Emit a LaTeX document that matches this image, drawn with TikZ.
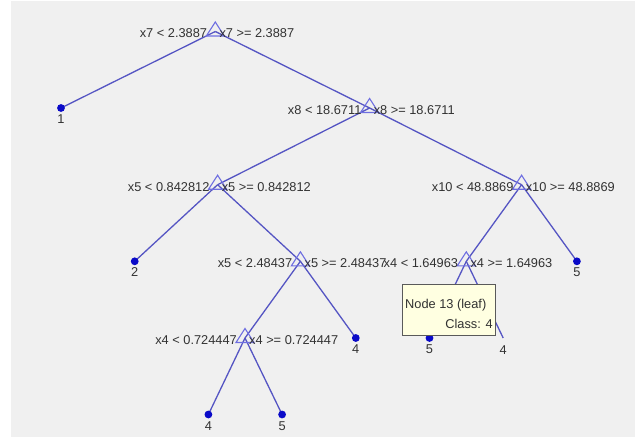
\documentclass[tikz,border=0pt]{standalone}
\usepackage{fontspec}
\setmainfont{Liberation Sans}
\definecolor{bgc}{RGB}{240,240,240}
\definecolor{edgec}{RGB}{85,85,195}
\definecolor{tric}{RGB}{110,110,225}
\definecolor{dotc}{RGB}{10,10,200}
\definecolor{txtc}{RGB}{50,50,50}
\definecolor{tipc}{RGB}{255,255,225}
\definecolor{tipb}{RGB}{90,90,90}
\tikzset{
  edge/.style={draw=edgec, line width=1.3pt},
  tri/.style={draw=tric, line width=1.1pt},
  lab/.style={text=txtc, inner sep=0pt, font=\fontsize{12.8}{14}\selectfont},
  tipbox/.style={draw=tipb, fill=tipc, line width=1pt, inner sep=0pt, minimum width=93pt, minimum height=51pt},
}
\begin{document}
\begin{tikzpicture}[x=1pt,y=-1pt]
\useasboundingbox (0,0) rectangle (635,437);
\fill[white] (0,0) rectangle (635,437);
\fill[bgc] (11,1) rectangle (635,437);
% node positions
\coordinate (n1) at (215.3,31.5);
\coordinate (l1) at (61,108);
\coordinate (n2) at (369.6,108);
\coordinate (n3) at (217.6,184.7);
\coordinate (n4) at (521.6,184.7);
\coordinate (l2) at (134.7,261.3);
\coordinate (n5) at (300.4,261.3);
\coordinate (n6) at (466.3,261.3);
\coordinate (l8) at (576.9,261.3);
\coordinate (n7) at (245,338);
\coordinate (l5) at (355.8,338);
\coordinate (l6) at (429.5,338);
\coordinate (l7) at (503.2,338);
\coordinate (l3) at (208.4,414.5);
\coordinate (l4) at (282.1,414.5);
% edges
\draw[edge] (n1) -- (l1);
\draw[edge] (n1) -- (n2);
\draw[edge] (n2) -- (n3);
\draw[edge] (n2) -- (n4);
\draw[edge] (n3) -- (l2);
\draw[edge] (n3) -- (n5);
\draw[edge] (n5) -- (n7);
\draw[edge] (n5) -- (l5);
\draw[edge] (n7) -- (l3);
\draw[edge] (n7) -- (l4);
\draw[edge] (n4) -- (n6);
\draw[edge] (n4) -- (l8);
\draw[edge] (n6) -- (l6);
\draw[edge] (n6) -- (l7);
% triangles
\foreach \n in {n1,n2,n3,n4,n5,n6,n7}
  \draw[tri] ([shift={(0,-9.5)}]\n) -- ([shift={(9,4.5)}]\n) -- ([shift={(-9,4.5)}]\n) -- cycle;
% split labels
\node[lab, anchor=east] (t1a) at ([shift={(-8,2)}]n1) {x7 < 2.3887};
\node[lab, anchor=west] (t1b) at ([shift={(4,2)}]n1) {x7 >= 2.3887};
\node[lab, anchor=east] (t2a) at ([shift={(-8,2)}]n2) {x8 < 18.6711};
\node[lab, anchor=west] (t2b) at ([shift={(4,2)}]n2) {x8 >= 18.6711};
\node[lab, anchor=east] (t3a) at ([shift={(-8,2)}]n3) {x5 < 0.842812};
\node[lab, anchor=west] (t3b) at ([shift={(4,2)}]n3) {x5 >= 0.842812};
\node[lab, anchor=east] (t4a) at ([shift={(-8,2)}]n4) {x10 < 48.8869};
\node[lab, anchor=west] (t4b) at ([shift={(4,2)}]n4) {x10 >= 48.8869};
\node[lab, anchor=east] (t5a) at ([shift={(-8,2)}]n5) {x5 < 2.48437};
\node[lab, anchor=west] (t5b) at ([shift={(4,2)}]n5) {x5 >= 2.48437};
\node[lab, anchor=east] (t6a) at ([shift={(-8,2)}]n6) {x4 < 1.64963};
\node[lab, anchor=west] (t6b) at ([shift={(4,2)}]n6) {x4 >= 1.64963};
\node[lab, anchor=east] (t7a) at ([shift={(-8,2)}]n7) {x4 < 0.724447};
\node[lab, anchor=west] (t7b) at ([shift={(4,2)}]n7) {x4 >= 0.724447};
% leaves
\foreach \l in {l1,l2,l3,l4,l5,l6,l8}
  \fill[dotc] (\l) circle (3.9);
\node[lab] (c1) at ([shift={(0,11)}]l1) {1};
\node[lab] (c2) at ([shift={(0,11)}]l2) {2};
\node[lab] (c3) at ([shift={(0,12)}]l3) {4};
\node[lab] (c4) at ([shift={(0,12)}]l4) {5};
\node[lab] (c5) at ([shift={(0,11)}]l5) {4};
\node[lab] (c6) at ([shift={(0,11)}]l6) {5};
\node[lab] (c7) at ([shift={(0,12)}]l7) {4};
\node[lab] (c8) at ([shift={(0,11)}]l8) {5};
% tooltip
\node[tipbox, anchor=north west] (tip) at (402,284) {};
\node[lab, anchor=west] (tipa) at ([shift={(3,21)}]tip.north west) {Node 13 (leaf)};
\node[lab, anchor=east] (tipb) at ([shift={(-3,-12)}]tip.south east) {Class: 4};
\end{tikzpicture}
\end{document}
